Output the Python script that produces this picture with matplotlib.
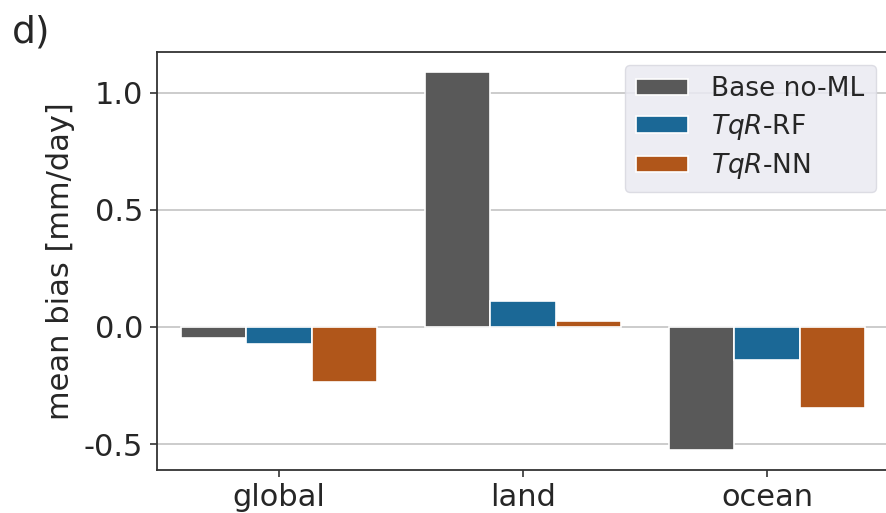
import matplotlib
matplotlib.use("Agg")
import matplotlib.pyplot as plt
import numpy as np

regions = ["global", "land", "ocean"]
series_names = ["Base no-ML", "$\\it{TqR}$-RF", "$\\it{TqR}$-NN"]
base_noml = [-0.047, 1.09, -0.526]
tqr_rf = [-0.073, 0.111, -0.141]
tqr_nn = [-0.235, 0.026, -0.346]
yticks = [-0.5, 0.0, 0.5, 1.0]
ytick_labels = ["-0.5", "0.0", "0.5", "1.0"]

colors = ["#595959", "#1b6896", "#b0561a"]

fig = plt.figure(figsize=(8.86, 5.13), dpi=100)
ax = fig.add_axes([157 / 886, 43 / 513, 732 / 886, 418 / 513])

x = np.arange(len(regions))
width = 0.8 / 3
for i, (vals, name, c) in enumerate(zip([base_noml, tqr_rf, tqr_nn], series_names, colors)):
    ax.bar(x + (i - 1) * width, vals, width, color=c, edgecolor="white",
           linewidth=1.2, label=name, zorder=3)

ax.set_xlim(-0.5, 2.5)
ax.set_ylim(-0.611, 1.175)
ax.set_xticks(x)
ax.set_xticklabels(regions)
ax.set_yticks(yticks)
ax.set_yticklabels(ytick_labels)
ax.yaxis.grid(True, color="#c8c8c8", linewidth=1.3, zorder=0)
ax.xaxis.grid(False)
ax.tick_params(axis="both", labelsize=22, length=5, width=1.2, color="#333333",
               labelcolor="#262626", pad=5)
ax.tick_params(axis="x", pad=4)
ax.set_ylabel("mean bias [mm/day]", fontsize=22, color="#262626", labelpad=6)
for side in ["left", "bottom", "top"]:
    ax.spines[side].set_color("#333333")
    ax.spines[side].set_linewidth(1.3)
ax.spines["right"].set_visible(False)

leg = ax.legend(loc="upper right", fontsize=19,
                handlelength=1.95, handleheight=0.6, borderpad=0.42, labelspacing=0.36,
                handletextpad=0.9, facecolor="#eaeaf2", edgecolor="#d8d8e0",
                framealpha=0.85, fancybox=True)
for t in leg.get_texts():
    t.set_color("#262626")

fig.text(12 / 886, 1 - 43 / 513, "d)", fontsize=27, color="#262626")

fig.savefig("out.png", dpi=100)
